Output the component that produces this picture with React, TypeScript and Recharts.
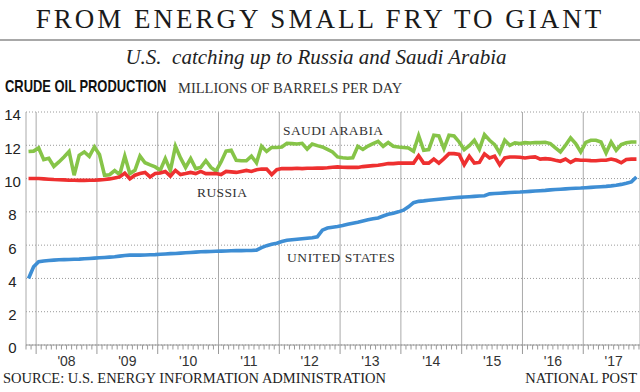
import React from 'react'
import { LineChart, Line, XAxis, YAxis, CartesianGrid } from 'recharts'

// monthly, Nov 2007 .. Nov 2017 (millions of barrels per day)
const saudiArabia = [
  11.63, 11.65,
  11.84, 11.14, 11.22, 10.73, 11.0, 11.3, 11.63, 10.2, 11.4, 11.6, 11.33, 11.9,
  11.45, 10.2, 10.23, 10.48, 10.24, 11.35, 10.3, 10.5, 11.35, 10.95, 10.82, 10.7,
  10.5, 11.2, 10.48, 11.94, 11.24, 10.67, 11.2, 10.6, 10.67, 11.07, 10.67, 10.45,
  11.0, 11.65, 11.7, 11.1, 11.07, 11.07, 11.35, 10.95, 11.94, 11.63, 11.87, 11.87,
  11.9, 12.12, 12.1, 12.08, 12.12, 11.77, 12.08, 11.98, 11.9, 11.75, 11.6, 11.3,
  11.25, 11.22, 11.25, 11.94, 11.75, 11.95, 12.1, 12.24, 11.94, 12.17, 11.94, 11.9,
  11.87, 11.84, 11.64, 12.58, 11.7, 11.74, 12.6, 12.56, 11.8, 12.6, 12.56, 12.2,
  11.74, 11.98, 12.3, 11.77, 12.64, 12.3, 12.04, 11.54, 12.3, 12.0, 12.14, 12.1,
  12.16, 12.14, 12.17, 12.16, 12.18, 12.1, 11.85, 11.6, 12.0, 12.44, 12.1, 11.6,
  12.17, 12.3, 12.3, 12.2, 11.54, 12.2, 11.7, 12.04, 12.15, 12.2, 12.2,
]

const russia = [
  10.0, 10.0,
  10.0, 9.98, 9.96, 9.94, 9.93, 9.92, 9.9, 9.9, 9.89, 9.89, 9.9, 9.9,
  9.92, 9.94, 9.98, 10.04, 10.1, 10.33, 9.98, 10.2, 10.3, 10.37, 10.1, 10.3,
  10.33, 10.43, 10.15, 10.49, 10.24, 10.3, 10.37, 10.3, 10.43, 10.3, 10.3, 10.3,
  10.24, 10.43, 10.4, 10.37, 10.43, 10.49, 10.43, 10.53, 10.57, 10.57, 10.24, 10.53,
  10.6, 10.6, 10.6, 10.62, 10.6, 10.62, 10.62, 10.63, 10.63, 10.65, 10.68, 10.7,
  10.68, 10.67, 10.67, 10.67, 10.72, 10.75, 10.78, 10.8, 10.85, 10.9, 10.9, 10.93,
  10.93, 10.93, 10.93, 11.37, 10.93, 10.93, 11.17, 10.93, 11.2, 11.5, 11.5, 11.45,
  10.83, 11.34, 10.93, 10.97, 11.48, 11.24, 11.34, 10.83, 11.24, 11.3, 11.3, 11.28,
  11.24, 11.28, 11.3, 11.17, 11.2, 11.17, 11.1, 11.04, 11.17, 10.97, 11.14, 11.1,
  11.1, 11.08, 11.07, 11.1, 11.1, 11.17, 11.1, 10.95, 11.15, 11.17, 11.17,
]

const unitedStates = [
  4.0, 4.7,
  5.0, 5.05, 5.08, 5.1, 5.12, 5.13, 5.14, 5.15, 5.16, 5.18, 5.2, 5.22,
  5.24, 5.26, 5.28, 5.3, 5.34, 5.38, 5.4, 5.4, 5.4, 5.41, 5.42, 5.43,
  5.45, 5.47, 5.49, 5.5, 5.52, 5.54, 5.56, 5.58, 5.6, 5.61, 5.62, 5.63,
  5.64, 5.65, 5.66, 5.67, 5.67, 5.68, 5.68, 5.7, 5.85, 5.97, 6.05, 6.12,
  6.22, 6.29, 6.32, 6.35, 6.38, 6.41, 6.44, 6.5, 6.9, 7.03, 7.08, 7.12,
  7.18, 7.25, 7.32, 7.38, 7.45, 7.52, 7.58, 7.63, 7.75, 7.85, 7.92, 8.0,
  8.1, 8.3, 8.55, 8.63, 8.66, 8.7, 8.73, 8.76, 8.79, 8.82, 8.85, 8.87,
  8.89, 8.91, 8.93, 8.95, 8.97, 9.08, 9.1, 9.12, 9.14, 9.16, 9.18, 9.19,
  9.21, 9.23, 9.25, 9.27, 9.29, 9.32, 9.34, 9.36, 9.38, 9.4, 9.42, 9.43,
  9.45, 9.47, 9.49, 9.51, 9.53, 9.56, 9.6, 9.65, 9.72, 9.8, 10.1,
]

const yTicks = [0, 2, 4, 6, 8, 10, 12, 14]
const years = [2008, 2009, 2010, 2011, 2012, 2013, 2014, 2015, 2016, 2017]

// first point is November 2007, plotted mid-month
const FIRST_MONTH = 10
const monthToT = (m: number) => 2007 + m / 12

const data = saudiArabia.map((v, i) => ({
  t: monthToT(FIRST_MONTH + i + 0.5),
  saudi: v,
  russia: russia[i],
  us: unitedStates[i],
}))

const xDomain = [monthToT(FIRST_MONTH), monthToT(FIRST_MONTH + 121.2)]
const monthTicks = Array.from({ length: 122 }, (_, i) => monthToT(FIRST_MONTH + i))

const serif = '"Liberation Serif", "DejaVu Serif", serif'
const sans = '"Liberation Sans", Arial, sans-serif'

function MonthTick(props: any) {
  const { x, y, payload } = props
  const m = Math.round((payload.value - 2007) * 12)
  const month = ((m % 12) + 12) % 12
  const year = 2007 + Math.floor(m / 12)
  return (
    <g>
      <line x1={x} x2={x} y1={y} y2={y + (month === 0 ? 9 : 4.5)} stroke="#999" strokeWidth={1} />
      {month === 6 && (
        <text x={x} y={y + 11} dy="0.71em" textAnchor="middle" fontFamily={sans} fontSize={14} fill="#333">
          {`'${String(year).slice(2)}`}
        </text>
      )}
    </g>
  )
}

function ValueTick(props: any) {
  const { y, payload } = props
  return (
    <text x={12.5} y={y + 3} dy="0.36em" textAnchor="middle" fontFamily={sans} fontSize={15} fill="#222">
      {payload.value}
    </text>
  )
}

const abs = (style: React.CSSProperties): React.CSSProperties => ({
  position: 'absolute',
  whiteSpace: 'nowrap',
  lineHeight: 1,
  ...style,
})

export default function App() {
  return (
    <div style={{ position: 'fixed', left: 0, top: 0, width: 640, height: 392, background: '#fff', overflow: 'hidden' }}>
      <LineChart width={640} height={392} data={data} margin={{ top: 112, right: 0, bottom: 0, left: 0 }}>
        <CartesianGrid horizontal vertical={false} stroke="#9a9a9a" strokeDasharray="1 2" />
        <CartesianGrid xAxisId="years" horizontal={false} vertical stroke="#aaa" />
        <XAxis
          dataKey="t"
          type="number"
          domain={xDomain}
          ticks={monthTicks}
          interval={0}
          allowDataOverflow
          height={47}
          axisLine={{ stroke: '#999' }}
          tickLine={false}
          tickSize={0}
          tickMargin={0}
          tick={<MonthTick />}
        />
        <XAxis xAxisId="years" dataKey="t" type="number" domain={xDomain} ticks={years} allowDataOverflow hide />
        <YAxis
          domain={[0, 14]}
          ticks={yTicks}
          width={26}
          axisLine={false}
          tickLine={false}
          tick={<ValueTick />}
        />
        <Line dataKey="saudi" stroke="#86c448" strokeWidth={3.6} dot={false} isAnimationActive={false} />
        <Line dataKey="russia" stroke="#ee3030" strokeWidth={3.6} dot={false} isAnimationActive={false} />
        <Line dataKey="us" stroke="#3e8ed4" strokeWidth={3.6} dot={false} isAnimationActive={false} />
      </LineChart>

      <div style={abs({ left: 0, width: 640, top: 6, textAlign: 'center', fontFamily: serif, fontSize: 27, letterSpacing: 3.0, color: '#1a1a1a' })}>
        FROM ENERGY SMALL FRY TO GIANT
      </div>
      <div style={{ position: 'absolute', left: 0, top: 39, width: 640, height: 2, background: '#a8a8a8' }} />
      <div style={abs({ left: 0, width: 632, top: 47, textAlign: 'center', fontFamily: serif, fontStyle: 'italic', fontSize: 21, color: '#222' })}>
        U.S.&nbsp; catching up to Russia and Saudi Arabia
      </div>
      <div
        style={abs({
          left: 5,
          top: 78,
          fontFamily: sans,
          fontWeight: 'bold',
          fontSize: 17,
          color: '#111',
          transform: 'scaleX(0.76)',
          transformOrigin: 'left top',
        })}
      >
        CRUDE OIL PRODUCTION
      </div>
      <div style={abs({ left: 178, top: 81, fontFamily: serif, fontSize: 14.5, color: '#333' })}>
        MILLIONS OF BARRELS PER DAY
      </div>

      <div style={abs({ left: 283, top: 124, fontFamily: serif, fontSize: 13.5, letterSpacing: 0.4, color: '#333' })}>SAUDI ARABIA</div>
      <div style={abs({ left: 197, top: 186, fontFamily: serif, fontSize: 13.5, letterSpacing: 0.4, color: '#333' })}>RUSSIA</div>
      <div style={abs({ left: 287, top: 251, fontFamily: serif, fontSize: 13.5, letterSpacing: 0.6, color: '#333' })}>UNITED STATES</div>

      <div style={abs({ left: 3, top: 371, fontFamily: serif, fontSize: 14.5, color: '#222' })}>
        SOURCE: U.S. ENERGY INFORMATION ADMINISTRATION
      </div>
      <div style={abs({ right: 3, top: 371, fontFamily: serif, fontSize: 14.5, color: '#222' })}>NATIONAL POST</div>
    </div>
  )
}
